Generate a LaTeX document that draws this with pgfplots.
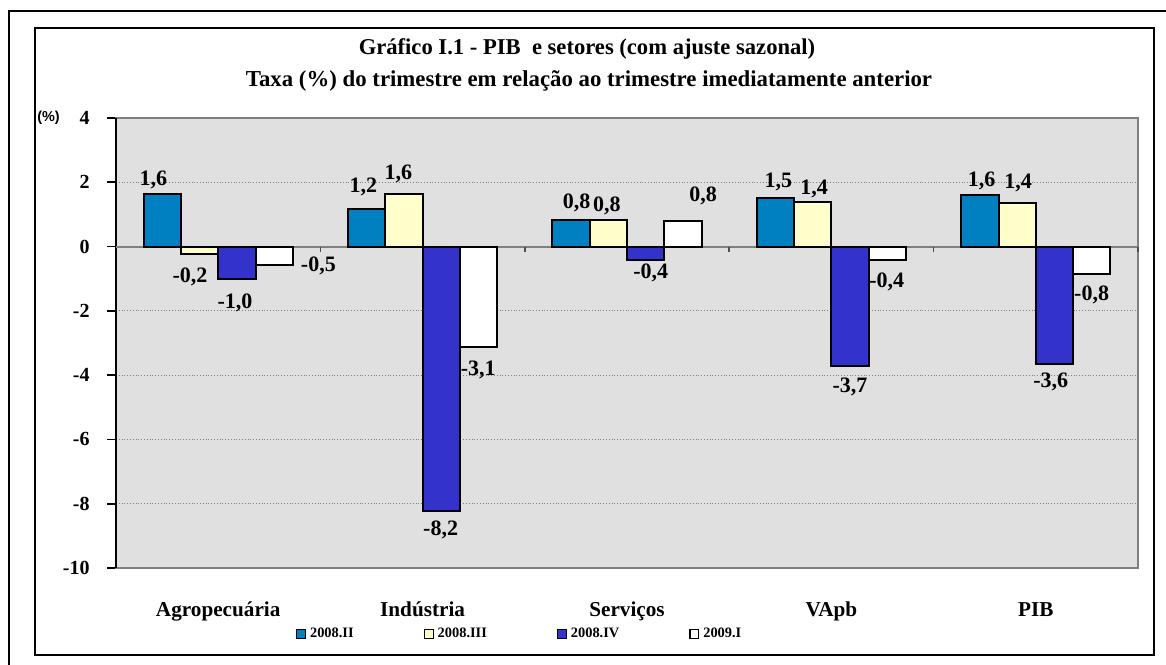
\documentclass[border=0pt]{standalone}
\usepackage{pgfplots}
\pgfplotsset{compat=1.18}
\usepackage{fontspec}
\setmainfont{Liberation Serif}
\newfontfamily\arialfont{Liberation Sans}
\definecolor{bblue}{HTML}{0080C0}
\definecolor{byel}{HTML}{FFFFCC}
\definecolor{bviol}{HTML}{3333CC}
\definecolor{plotbg}{HTML}{E0E0E0}
\definecolor{fgray}{HTML}{808080}
\pgfplotsset{
  mybar/.style={ybar, bar width=0.1825, draw=black, line width=1pt,
    legend image code/.code={\draw[##1,draw=black,line width=0.6pt] (0pt,-2.2pt) rectangle (4.4pt,2.2pt);}},
}
\begin{document}
\begin{tikzpicture}
\path[use as bounding box] (0,0) rectangle (583pt,332pt);
\draw[black, line width=1.1pt] (4.5pt,-10pt) rectangle (600pt,326.5pt);
\draw[black, line width=0.7pt] (17.5pt,4.5pt) rectangle (577pt,318pt);
\node[font=\bfseries\fontsize{11.3pt}{13pt}\selectfont] at (293.5pt,307.5pt) {Gráfico I.1 - PIB\ \ e setores (com ajuste sazonal)};
\node[font=\bfseries\fontsize{11.4pt}{13pt}\selectfont] at (294.5pt,291.5pt) {Taxa (\%) do trimestre em relação ao trimestre imediatamente anterior};
\node[font=\arialfont\bfseries\fontsize{7.2pt}{8pt}\selectfont] at (24.25pt,273pt) {(\%)};
\begin{axis}[
  at={(58pt,48pt)}, anchor=south west, scale only axis,
  width=511pt, height=225pt,
  xmin=-0.5, xmax=4.5, ymin=-10, ymax=4,
  axis line style={draw=none},
  axis background/.style={fill=plotbg},
  xtick={0,1,2,3,4},
  xticklabels={Agropecuária, Indústria, Serviços, VApb, PIB},
  xtick style={draw=none},
  x tick label style={font=\bfseries\fontsize{10.6pt}{12pt}\selectfont, anchor=base, yshift=-19.5pt},
  ytick={-10,-8,-6,-4,-2,0,2,4},
  yticklabels={-10,-8,-6,-4,-2,0,2,4},
  ytick pos=left, tick align=outside, major tick length=4.5pt,
  ytick style={black, line width=0.8pt},
  y tick label style={font=\bfseries\fontsize{10pt}{12pt}\selectfont, anchor=east, inner sep=0pt, xshift=-8.5pt},
  ymajorgrids, grid style={densely dotted, fgray, line width=0.5pt},
  legend style={at={(0.396,-0.147)}, anchor=center, draw=none, fill=none,
    font=\bfseries\fontsize{7.2pt}{8pt}\selectfont, legend columns=4,
    /tikz/every even column/.append style={column sep=33pt}},
  legend cell align=left,
  clip=false,
]
\draw[fgray, line width=1pt] (rel axis cs:0,0) rectangle (rel axis cs:1,1);
\draw[black, line width=0.8pt] (rel axis cs:0,0) -- (rel axis cs:0,1);
\draw[fgray, line width=1pt] (axis cs:-0.5,0) -- (axis cs:4.5,0);
\pgfplotsinvokeforeach{0.5,1.5,2.5,3.5,4.5}{\draw[fgray!60!black, line width=0.8pt] (axis cs:#1,0) -- ++(0pt,-2.5pt);}

\addplot[mybar, bar shift=-0.27375, fill=bblue] coordinates {(0,1.64) (1,1.17) (2,0.83) (3,1.52) (4,1.61)};
\addlegendentry{2008.II}
\addplot[mybar, bar shift=-0.09125, fill=byel] coordinates {(0,-0.23) (1,1.63) (2,0.82) (3,1.40) (4,1.37)};
\addlegendentry{2008.III}
\addplot[mybar, bar shift=0.09125, fill=bviol] coordinates {(0,-1.02) (1,-8.22) (2,-0.42) (3,-3.72) (4,-3.65)};
\addlegendentry{2008.IV}
\addplot[mybar, bar shift=0.27375, fill=white] coordinates {(0,-0.57) (1,-3.11) (2,0.78) (3,-0.42) (4,-0.85)};
\addlegendentry{2009.I}

\addplot[only marks, mark=none, forget plot, nodes near coords, point meta=explicit symbolic,
  nodes near coords style={anchor=center, inner sep=0pt, font=\bfseries\fontsize{11pt}{13pt}\selectfont}]
  table[meta=lab] {
x y lab
-0.3175 2.07 1,6
-0.138 -0.937 -0,2
0.082 -1.755 -1,0
0.490 -0.604 -0,5
0.710 1.864 1,2
0.881 2.259 1,6
1.088 -8.82 -8,2
1.2725 -3.84 -3,1
1.754 1.347 0,8
1.901 1.263 0,8
2.116 -0.831 -0,4
2.373 1.574 0,8
2.740 2.019 1,5
2.915 1.783 1,4
3.091 -4.378 -3,7
3.271 -1.092 -0,4
3.735 2.041 1,6
3.914 1.969 1,4
4.073 -4.222 -3,6
4.273 -1.506 -0,8
};
\end{axis}
\end{tikzpicture}
\end{document}
